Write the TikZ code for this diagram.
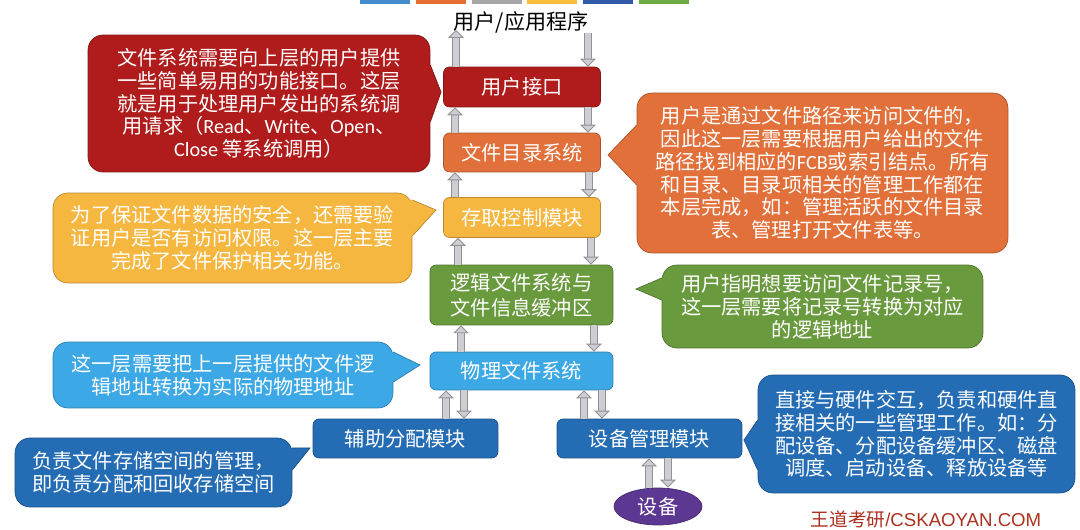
\documentclass[tikz,border=0pt]{standalone}
\usepackage{fontspec}
\setmainfont{Noto Sans CJK SC}
\newfontfamily\latf{Carlito}
\newfontfamily\wmfont{Liberation Sans}
\usepackage{xcolor}
\usetikzlibrary{shapes.geometric, positioning, arrows.meta, calc}
\definecolor{ifred}{RGB}{176,28,28}
\definecolor{dirorange}{RGB}{226,112,58}
\definecolor{ctrlyellow}{RGB}{246,183,64}
\definecolor{logicgreen}{RGB}{106,154,62}
\definecolor{physblue}{RGB}{60,168,230}
\definecolor{modblue}{RGB}{36,108,180}
\definecolor{devpurple}{RGB}{92,56,146}
\definecolor{arrowfill}{RGB}{205,205,210}
\definecolor{arrowline}{RGB}{145,145,152}
\definecolor{wmred}{RGB}{172,48,30}
\definecolor{strip1}{RGB}{68,140,205}
\definecolor{strip2}{RGB}{230,110,50}
\definecolor{strip3}{RGB}{165,165,165}
\definecolor{strip4}{RGB}{250,190,60}
\definecolor{strip5}{RGB}{50,90,170}
\definecolor{strip6}{RGB}{110,170,70}

\begin{document}
\begin{tikzpicture}[x=0.02cm, y=-0.02cm,
    every node/.style={font=\fontsize{11.5}{13}\selectfont, text=white},
    layer/.style={draw=#1!75!black, fill=#1, rounded corners=0.12cm, inner sep=0pt, align=center},
    note/.style={draw=#1!75!black, fill=#1, rounded corners=0.3cm, inner sep=0pt, align=center},
    flow/.style={line width=3.6pt, draw=arrowfill, -{Triangle[length=4.5pt, width=9pt, line width=0.5pt, fill=arrowfill, color=arrowline]},
        preaction={draw=arrowline, line width=4.6pt, arrows=-, shorten >=4pt}}]
    \fill[white] (0,0) rectangle (1080,530);
    \useasboundingbox (0,0) rectangle (1080,530);

    % colour strips at the top edge
    \foreach \sx [count=\i] in {360,416,472,527,583,639}
        \fill[strip\i] (\sx,0) rectangle ++(50,4.5);

    % Layers
    \node[text=black, font=\fontsize{12}{14}\selectfont] (title) at (521,22) {用户/应用程序};
    \node[layer=ifred, minimum width=3.14cm, minimum height=0.8cm] (iface) at (522,87) {用户接口};
    \node[layer=dirorange, minimum width=3.14cm, minimum height=0.78cm] (dir) at (522,152.5) {文件目录系统};
    \node[layer=ctrlyellow, minimum width=3.14cm, minimum height=0.8cm] (ctrl) at (522,217.5) {存取控制模块};
    \node[layer=logicgreen, minimum width=3.66cm, minimum height=1.2cm, font=\fontsize{11.5}{14}\selectfont] (logic) at (521.5,295) {逻辑文件系统与\\文件信息缓冲区};
    \node[layer=physblue, minimum width=3.66cm, minimum height=0.76cm] (phys) at (521.5,371) {物理文件系统};
    \node[layer=modblue, minimum width=3.7cm, minimum height=0.78cm] (aux) at (405.5,438.5) {辅助分配模块};
    \node[layer=modblue, minimum width=3.7cm, minimum height=0.78cm] (devm) at (649.5,438.5) {设备管理模块};
    \node[ellipse, draw=devpurple!75!black, fill=devpurple, minimum width=1.76cm, minimum height=0.74cm, inner sep=0pt] (dev) at (658,506.5) {设备};

    % Flows between layers
    \coordinate (appup) at (456,30);
    \coordinate (appdown) at (588,33);
    \draw[flow] (iface.north -| 456,0) -- (appup);
    \draw[flow] (appdown) -- (iface.north -| 588,0);
    \draw[flow] (dir.north -| 455,0) -- (iface.south -| 455,0);
    \draw[flow] (iface.south -| 588,0) -- (dir.north -| 588,0);
    \draw[flow] (ctrl.north -| 455,0) -- (dir.south -| 455,0);
    \draw[flow] (dir.south -| 589,0) -- (ctrl.north -| 589,0);
    \draw[flow] (logic.north -| 458,0) -- (ctrl.south -| 458,0);
    \draw[flow] (ctrl.south -| 591,0) -- (logic.north -| 591,0);
    \draw[flow] (phys.north -| 461,0) -- (logic.south -| 461,0);
    \draw[flow] (logic.south -| 594,0) -- (phys.north -| 594,0);
    \draw[flow] (aux.north -| 446,0) -- (phys.south -| 446,0);
    \draw[flow] (phys.south -| 464,0) -- (aux.north -| 464,0);
    \draw[flow] (devm.north -| 584,0) -- (phys.south -| 584,0);
    \draw[flow] (phys.south -| 602,0) -- (devm.north -| 602,0);
    \draw[flow] (dev.north -| 649,0) -- (devm.south -| 649,0);
    \draw[flow] (devm.south -| 668,0) -- (dev.north -| 668,0);

    % Notes
    \node[note=ifred, minimum width=6.84cm, minimum height=2.74cm] (ifnote) at (259,103.5)
        {文件系统需要向上层的用户提供\\一些简单易用的功能接口。这层\\就是用于处理用户发出的系统调\\用请求（{\latf Read}、{\latf Write}、{\latf Open}、\\{\latf Close} 等系统调用）};
    \fill[ifred] (ifnote.east |- 0,65) -- (441,92) -- (ifnote.east |- 0,122) -- ++(-3,0) -- ++(0,-57) -- cycle;
    \draw[ifred!75!black] (ifnote.east |- 0,65) -- (441,92) -- (ifnote.east |- 0,122);

    \node[note=dirorange, minimum width=7.42cm, minimum height=3.2cm] (dirnote) at (822.5,173)
        {用户是通过文件路径来访问文件的，\\因此这一层需要根据用户给出的文件\\路径找到相应的{\latf FCB}或索引结点。所有\\和目录、目录项相关的管理工作都在\\本层完成，如：管理活跃的文件目录\\表、管理打开文件表等。};
    \fill[dirorange] (dirnote.west |- 0,125) -- (608,155) -- (dirnote.west |- 0,185) -- ++(3,0) -- ++(0,-60) -- cycle;
    \draw[dirorange!75!black] (dirnote.west |- 0,125) -- (608,155) -- (dirnote.west |- 0,185);

    \node[note=ctrlyellow, minimum width=7.18cm, minimum height=1.8cm] (ctrlnote) at (232.5,238)
        {为了保证文件数据的安全，还需要验\\证用户是否有访问权限。这一层主要\\完成了文件保护相关功能。};
    \fill[ctrlyellow] (ctrlnote.east |- 0,200) -- (436,210) -- (ctrlnote.east |- 0,236) -- ++(-3,0) -- ++(0,-36) -- cycle;
    \draw[ctrlyellow!75!black] (ctrlnote.east |- 0,200) -- (436,210) -- (ctrlnote.east |- 0,236);

    \node[note=logicgreen, minimum width=6.42cm, minimum height=1.66cm] (logicnote) at (822.5,306.5)
        {用户指明想要访问文件记录号，\\这一层需要将记录号转换为对应\\的逻辑地址};
    \fill[logicgreen] (logicnote.west |- 0,278) -- (636,289) -- (logicnote.west |- 0,300) -- ++(3,0) -- ++(0,-22) -- cycle;
    \draw[logicgreen!75!black] (logicnote.west |- 0,278) -- (636,289) -- (logicnote.west |- 0,300);

    \node[note=physblue, minimum width=6.8cm, minimum height=1.32cm] (physnote) at (223,375)
        {这一层需要把上一层提供的文件逻\\辑地址转换为实际的物理地址};
    \fill[physblue] (physnote.east |- 0,352) -- (420,365) -- (physnote.east |- 0,382) -- ++(-3,0) -- ++(0,-30) -- cycle;
    \draw[physblue!75!black] (physnote.east |- 0,352) -- (420,365) -- (physnote.east |- 0,382);

    \node[note=modblue, minimum width=5.54cm, minimum height=1.38cm] (auxnote) at (153.5,472.5)
        {负责文件存储空间的管理，\\即负责分配和回收存储空间};
    \fill[modblue] (auxnote.east |- 0,448) -- (310,448) -- (auxnote.east |- 0,470) -- ++(-3,0) -- ++(0,-22) -- cycle;
    \draw[modblue!75!black] (auxnote.east |- 0,448) -- (310,448) -- (auxnote.east |- 0,470);

    \node[note=modblue, minimum width=6.34cm, minimum height=2.36cm] (devnote) at (916.5,434)
        {直接与硬件交互，负责和硬件直\\接相关的一些管理工作。如：分\\配设备、分配设备缓冲区、磁盘\\调度、启动设备、释放设备等};
    \fill[modblue] (devnote.west |- 0,420) -- (744,440) -- (devnote.west |- 0,470) -- ++(3,0) -- ++(0,-50) -- cycle;
    \draw[modblue!75!black] (devnote.west |- 0,420) -- (744,440) -- (devnote.west |- 0,470);

    % Watermark
    \node[text=wmred, font=\fontsize{10.6}{12}\selectfont] (mark) at (926,519) {王道考研{\wmfont /CSKAOYAN.COM}};
\end{tikzpicture}
\end{document}
